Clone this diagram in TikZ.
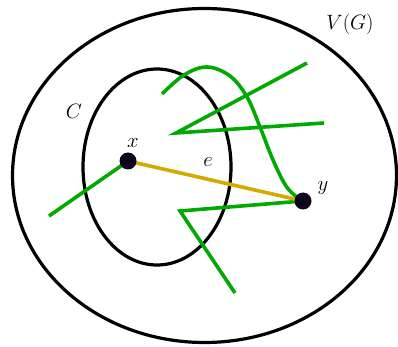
\documentclass[tikz,border=0pt]{standalone}
\usetikzlibrary{calc}
\definecolor{grn}{RGB}{0,170,0}
\definecolor{gold}{RGB}{212,170,0}
\definecolor{vtx}{RGB}{14,4,30}
\begin{document}
\begin{tikzpicture}[x=1pt,y=-1pt,
  ring/.style={draw=black,line width=3.2pt},
  gline/.style={draw=grn,line width=3.6pt},
  eline/.style={draw=gold,line width=3.6pt},
  vertex/.style={circle,fill=vtx,inner sep=0pt,minimum size=17pt},
  lab/.style={font=\fontsize{20}{24}\selectfont}]
\useasboundingbox (0,0) rectangle (398,347);
\draw[ring] (204.5,175.5) ellipse [x radius=192, y radius=167];
\draw[ring] (157,167) ellipse [x radius=74, y radius=98];
\coordinate (xv) at (128,161);
\coordinate (yv) at (303,201);
\coordinate (g1) at (49,216);
\coordinate (a1) at (307,63);
\coordinate (a2) at (176,133);
\coordinate (a3) at (324,123);
\coordinate (b1) at (180,211);
\coordinate (b2) at (235,293);
\coordinate (c0) at (162,94);
\draw[gline] (xv) -- (g1);
\draw[gline] (a1) -- (a2) -- (a3);
\draw[gline] (yv) -- (b1) -- (b2);
\draw[gline] plot[smooth,tension=0.6] coordinates {(c0) (184,75) (207,67) (230,76) (247,97) (260,127) (273,160) (286,186) (298,198)};
\draw[eline] (xv) -- (yv);
\node[vertex] (x) at (xv) {};
\node[vertex] (y) at (yv) {};
\node[lab] (lx) at (133,143) {$x$};
\node[lab] (ly) at (323,188) {$y$};
\node[lab] (le) at (208,162) {$e$};
\node[lab] (lc) at (74,111) {$C$};
\node[lab] (lv) at (350,24) {$V(G)$};
\end{tikzpicture}
\end{document}
